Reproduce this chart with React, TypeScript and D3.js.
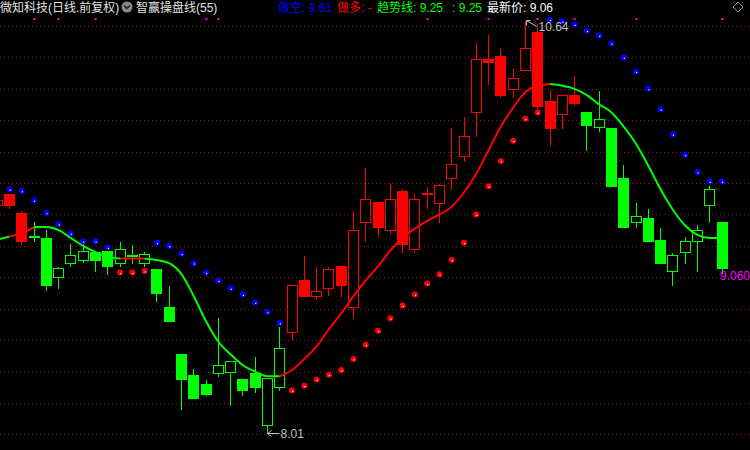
import React, { useEffect } from "react";
import * as d3 from "d3";

const WIDTH = 750;
const HEIGHT = 450;

// OHLC per trading day (index 0 is the partly hidden first candle)
const opens = [9.46, 9.53, 9.41, 9.26, 9.25, 9.0, 9.09, 9.11, 9.16, 9.17, 9.09, 9.14, 9.09, 9.05, 8.81, 8.51, 8.38, 8.32, 8.39, 8.4, 8.35, 8.39, 8.06, 8.3, 8.65, 8.98, 8.88, 8.93, 9.07, 8.81, 9.35, 9.48, 9.3, 9.55, 9.18, 9.54, 9.47, 9.63, 9.77, 10.05, 10.39, 10.41, 10.2, 10.32, 10.56, 10.12, 10.04, 10.16, 10.05, 9.96, 9.95, 9.63, 9.35, 9.38, 9.24, 9.04, 9.16, 9.23, 9.46, 9.35];
const highs = [9.51, 9.53, 9.43, 9.36, 9.31, 9.07, 9.22, 9.22, 9.16, 9.17, 9.23, 9.21, 9.17, 9.05, 8.95, 8.51, 8.42, 8.35, 8.75, 8.47, 8.35, 8.5, 8.36, 8.69, 8.95, 9.14, 9.07, 9.07, 9.07, 9.43, 9.7, 9.48, 9.61, 9.57, 9.54, 9.58, 9.6, 9.96, 10.03, 10.5, 10.55, 10.46, 10.33, 10.64, 10.62, 10.2, 10.16, 10.29, 10.05, 10.19, 9.96, 9.72, 9.48, 9.44, 9.32, 9.16, 9.26, 9.34, 9.59, 9.36];
const lows = [9.44, 9.44, 9.21, 9.23, 8.92, 8.93, 9.07, 9.1, 9.04, 9.02, 9.07, 9.09, 9.07, 8.85, 8.72, 8.16, 8.23, 8.25, 8.37, 8.19, 8.25, 8.27, 8.01, 8.28, 8.6, 8.88, 8.86, 8.89, 8.88, 8.74, 9.23, 9.26, 9.28, 9.16, 9.16, 9.44, 9.35, 9.56, 9.74, 9.9, 10.23, 10.15, 10.15, 10.32, 10.07, 9.84, 9.95, 10.1, 9.81, 9.93, 9.58, 9.32, 9.32, 9.23, 9.09, 8.95, 9.09, 9.04, 9.35, 9.03];
const closes = [9.49, 9.46, 9.23, 9.26, 8.95, 9.06, 9.14, 9.17, 9.11, 9.07, 9.18, 9.14, 9.15, 8.9, 8.72, 8.35, 8.23, 8.26, 8.44, 8.47, 8.28, 8.3, 8.36, 8.55, 8.95, 8.88, 8.91, 9.05, 8.95, 9.3, 9.5, 9.32, 9.5, 9.21, 9.5, 9.53, 9.59, 9.72, 9.9, 10.39, 10.37, 10.16, 10.27, 10.46, 10.09, 9.95, 10.16, 10.11, 9.97, 10.01, 9.58, 9.32, 9.39, 9.23, 9.09, 9.14, 9.23, 9.3, 9.56, 9.06];

// 趋势线 (trend line) values
const trend = [9.24, 9.26, 9.28, 9.32, 9.32, 9.3, 9.25, 9.2, 9.16, 9.13, 9.12, 9.12, 9.12, 9.11, 9.09, 9.02, 8.88, 8.72, 8.59, 8.51, 8.44, 8.4, 8.37, 8.37, 8.41, 8.48, 8.56, 8.67, 8.77, 8.88, 8.98, 9.07, 9.17, 9.25, 9.31, 9.36, 9.4, 9.45, 9.54, 9.66, 9.81, 9.96, 10.08, 10.18, 10.22, 10.23, 10.22, 10.2, 10.16, 10.1, 10.05, 9.96, 9.85, 9.71, 9.56, 9.43, 9.33, 9.27, 9.25, 9.25];
// 1 = bullish segment (starting at this index), 0 = bearish
const trendBull = [0, 1, 1, 0, 0, 0, 0, 0, 0, 0, 1, 1, 0, 0, 0, 0, 0, 0, 0, 0, 0, 0, 0, 1, 1, 1, 1, 1, 1, 1, 1, 1, 1, 1, 1, 1, 1, 1, 1, 1, 1, 1, 1, 1, 1, 0, 0, 0, 0, 0, 0, 0, 0, 0, 0, 0, 0, 0, 0, 0];

// Stop line (做多 red dots below / 做空 blue dots above)
const stopLine = [null, 9.56, 9.55, 9.49, 9.41, 9.34, 9.28, 9.23, 9.23, 9.19, 9.03, 9.03, 9.04, 9.22, 9.2, 9.15, 9.09, 9.03, 8.98, 8.93, 8.89, 8.84, 8.78, 8.71, 8.28, 8.31, 8.35, 8.38, 8.41, 8.48, 8.57, 8.66, 8.74, 8.82, 8.89, 8.96, 9.02, 9.11, 9.22, 9.4, 9.58, 9.74, 9.87, 10.01, 10.05, 10.64, 10.63, 10.61, 10.57, 10.54, 10.49, 10.4, 10.31, 10.2, 10.07, 9.91, 9.78, 9.67, 9.61, 9.61];
const stopBull = [0, 0, 0, 0, 0, 0, 0, 0, 0, 0, 1, 1, 1, 0, 0, 0, 0, 0, 0, 0, 0, 0, 0, 0, 1, 1, 1, 1, 1, 1, 1, 1, 1, 1, 1, 1, 1, 1, 1, 1, 1, 1, 1, 1, 1, 0, 0, 0, 0, 0, 0, 0, 0, 0, 0, 0, 0, 0, 0, 0];

// candle colour state: 1 = red (bull), 0 = green (bear)
const candleBull = [1, 1, 1, 0, 0, 0, 0, 0, 0, 0, 0, 0, 0, 0, 0, 0, 0, 0, 0, 0, 0, 0, 0, 0, 1, 1, 1, 1, 1, 1, 1, 1, 1, 1, 1, 1, 1, 1, 1, 1, 1, 1, 1, 1, 1, 1, 1, 1, 0, 0, 0, 0, 0, 0, 0, 0, 0, 0, 0, 0];

// signal marks along the top edge
const signalMarks = [3, 5, 8, 17, 18, 35, 40, 44, 47, 52, 59];

// horizontal grid prices
const gridPrices = [10.6, 10.4, 10.2, 10.0, 9.8, 9.6, 9.4, 9.2, 9.0, 8.8, 8.6, 8.4, 8.2, 8.0];

const RED = "#ff0000";
const GREEN = "#00ff00";
const BLUE = "#0000ff";
const FONT = "'Liberation Sans', 'Noto Sans CJK SC', sans-serif";

export default function App() {
  useEffect(() => {
    document.body.style.margin = "0";
    document.body.style.background = "#000";
  }, []);

  const n = opens.length;
  const x = d3.scaleLinear().domain([0, n - 1]).range([-2.8, 722]);
  const y = d3.scaleLinear().domain([8.0, 10.6]).range([434.4, 26]);
  const px = (i: number) => Math.floor(x(i)) + 0.5;
  const py = (v: number) => Math.round(y(v)) + 0.5;

  // trend runs
  const runs: { bull: number; start: number; end: number }[] = [];
  for (let i = 0; i < n - 1; i++) {
    const b = trendBull[i];
    const last = runs[runs.length - 1];
    if (last && last.bull === b && last.end === i) last.end = i + 1;
    else runs.push({ bull: b, start: i, end: i + 1 });
  }
  const line = d3
    .line<number>()
    .x((i) => x(i))
    .y((i) => y(trend[i]))
    .curve(d3.curveMonotoneX);

  const hiIdx = d3.maxIndex(highs);
  const loIdx = d3.minIndex(lows);
  const last = n - 1;

  const hx = px(hiIdx);
  const hy = py(highs[hiIdx]);
  const lx = px(loIdx);
  const ly = py(lows[loIdx]);

  return (
    <svg
      width={WIDTH}
      height={HEIGHT}
      style={{ position: "fixed", left: 0, top: 0, background: "#000", display: "block" }}
    >
      <rect x={0} y={0} width={WIDTH} height={HEIGHT} fill="#000" />
      {/* grid */}
      {gridPrices.map((p) => (
        <line
          key={p}
          x1={0}
          x2={WIDTH}
          y1={py(p)}
          y2={py(p)}
          stroke="#8c1020"
          strokeDasharray="1 3"
          shapeRendering="crispEdges"
        />
      ))}

      {/* candles */}
      {opens.map((o, i) => {
        const c = closes[i];
        const col = candleBull[i] ? RED : GREEN;
        const cx = px(i);
        const yO = py(o);
        const yC = py(c);
        const top = Math.min(yO, yC);
        const bot = Math.max(yO, yC);
        const filled = c < o;
        return (
          <g key={i} shapeRendering="crispEdges">
            <line x1={cx} x2={cx} y1={py(highs[i])} y2={top} stroke={col} />
            <line x1={cx} x2={cx} y1={bot} y2={py(lows[i])} stroke={col} />
            <rect
              x={cx - 5}
              y={top}
              width={10}
              height={Math.max(bot - top, 1)}
              fill={filled || bot - top < 1 ? col : "#000"}
              stroke={col}
            />
          </g>
        );
      })}

      {/* trend line */}
      {runs.map((r, k) => (
        <path
          key={k}
          d={line(d3.range(r.start, r.end + 1)) || ""}
          fill="none"
          stroke={r.bull ? RED : GREEN}
          strokeWidth={2}
        />
      ))}

      {/* stop dots */}
      {stopLine.map((v, i) =>
        v == null ? null : (
          <g key={i}>
            <circle cx={x(i)} cy={y(v)} r={3} fill={stopBull[i] ? RED : BLUE} />
            <rect x={x(i)} y={y(v) + 0.3} width={1.2} height={1.2} fill="#fff" />
          </g>
        )
      )}

      {/* signal marks */}
      {signalMarks.map((i) => (
        <rect key={i} x={px(i) - 1} y={18} width={2} height={2} fill="#ff00ff" />
      ))}

      {/* high label */}
      <path
        d={`M${hx + 1},${hy + 5} L${hx + 1},${hy} L${hx + 5},${hy} M${hx + 1},${hy} L${hx + 11},${hy + 6}`}
        stroke="#c0c0c0"
        fill="none"
      />
      <text x={hx + 13} y={hy + 10} fill="#c0c0c0" fontSize={12} fontFamily={FONT}>
        {highs[hiIdx].toFixed(2)}
      </text>

      {/* low label */}
      <path
        d={`M${lx},${ly} L${lx + 12},${ly} M${lx},${ly} L${lx + 4},${ly - 3} M${lx},${ly} L${lx + 4},${ly + 3}`}
        stroke="#c0c0c0"
        fill="none"
      />
      <text x={lx + 13} y={ly + 4.5} fill="#c0c0c0" fontSize={12} fontFamily={FONT}>
        {lows[loIdx].toFixed(2)}
      </text>

      {/* last price label */}
      <text x={750} y={y(closes[last]) + 12} textAnchor="end" fill="#ff00ff" fontSize={12} fontFamily={FONT}>
        {closes[last].toFixed(3)}
      </text>

      {/* header */}
      <g fontFamily={FONT} fontSize={12}>
        <text x={0} y={12} fill="#e0e0e0">微知科技(日线.前复权)</text>
        <circle cx={127} cy={7} r={5.5} fill="#8a8a8a" />
        <path d="M124.2,5.6 L127,8.4 L129.8,5.6" stroke="#222" strokeWidth={1.6} fill="none" />
        <text x={136} y={12} fill="#e0e0e0">智赢操盘线(55)</text>
        <text x={278} y={12} fill={BLUE}>做空: {(stopLine[last] as number).toFixed(2)}</text>
        <text x={337} y={12} fill={RED}>做多: -</text>
        <text x={377} y={12} fill={GREEN}>趋势线: {trend[last].toFixed(2)}</text>
        <text x={452} y={12} fill={GREEN}>: {trend[last].toFixed(2)}</text>
        <text x={487} y={12} fill="#ffffff">最新价: {closes[last].toFixed(2)}</text>
        <path d="M738,2 L743,7 L738,12 L733,7 Z" stroke="#909090" fill="none" />
      </g>
    </svg>
  );
}
